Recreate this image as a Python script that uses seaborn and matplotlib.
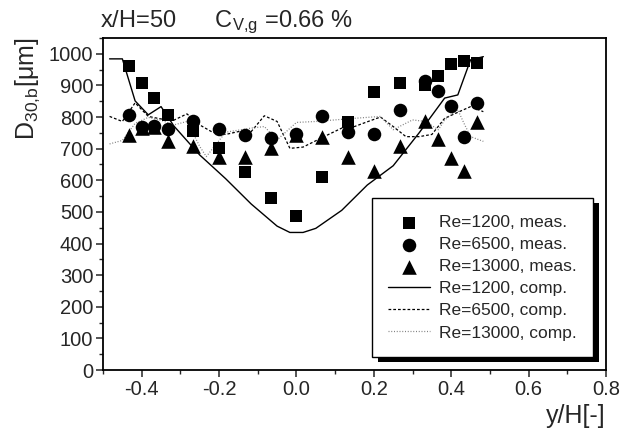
import matplotlib
matplotlib.use("Agg")
import matplotlib.pyplot as plt
import seaborn as sns
from matplotlib.patches import Rectangle
from matplotlib.ticker import MultipleLocator

# measured droplet diameters
x_meas = [-0.433, -0.4, -0.367, -0.333, -0.267, -0.2, -0.133, -0.067, 0.0,
          0.067, 0.133, 0.2, 0.267, 0.333, 0.367, 0.4, 0.433, 0.467]
d_1200_meas = [962, 908, 861, 807, 757, 701, 625, 545, 488,
               611, 783, 879, 909, 900, 930, 967, 976, 970]
d_6500_meas = [807, 768, 772, 762, 789, 762, 744, 733, 746,
               804, 752, 747, 823, 915, 883, 835, 736, 844]
d_13000_meas = [744, 765, 770, 723, 709, 675, 673, 701, 744,
                736, 675, 628, 709, 788, 730, 670, 628, 783]

# computed profiles
x_1200_comp = [-0.483, -0.45, -0.417, -0.383, -0.35, -0.317, -0.25, -0.183, -0.117,
               -0.05, -0.017, 0.017, 0.05, 0.117, 0.183, 0.25, 0.317, 0.383,
               0.417, 0.45, 0.483]
d_1200_comp = [984, 984, 851, 807, 833, 772, 680, 605, 525,
               455, 435, 435, 448, 505, 585, 646, 750, 860,
               870, 981, 991]

x_6500_comp = [-0.483, -0.45, -0.417, -0.383, -0.35, -0.317, -0.283, -0.25, -0.217,
               -0.183, -0.15, -0.117, -0.083, -0.05, -0.017, 0.017, 0.05, 0.083,
               0.117, 0.15, 0.183, 0.217, 0.25, 0.283, 0.317, 0.35, 0.383,
               0.417, 0.45, 0.483]
d_6500_comp = [802, 786, 845, 802, 794, 790, 810, 775, 752,
               745, 754, 754, 804, 786, 701, 705, 725, 745,
               765, 770, 785, 800, 770, 738, 738, 745, 796,
               815, 833, 817]

x_13000_comp = [-0.483, -0.45, -0.417, -0.383, -0.35, -0.317, -0.283, -0.25, -0.233,
                -0.183, -0.117, -0.083, -0.05, 0.0, 0.05, 0.1, 0.15, 0.217,
                0.25, 0.3, 0.333, 0.367, 0.383, 0.417, 0.433, 0.45, 0.483]
d_13000_comp = [715, 726, 780, 799, 790, 775, 786, 707, 675,
                752, 765, 770, 728, 783, 786, 791, 796, 802,
                760, 791, 786, 760, 791, 823, 780, 738, 723]

sns.set_style("ticks")
plt.rcParams["font.family"] = ["Liberation Sans", "DejaVu Sans"]
plt.rcParams["mathtext.fontset"] = "custom"
plt.rcParams["mathtext.rm"] = "Liberation Sans"
plt.rcParams["mathtext.it"] = "Liberation Sans"

fig = plt.figure(figsize=(6.22, 4.36), dpi=100)
ax = fig.add_axes([103 / 622, 1 - 370 / 436, 503 / 622, 332 / 436])

sns.scatterplot(x=x_meas, y=d_1200_meas, marker="s", s=80, color="black",
                edgecolor="black", linewidth=0, label="Re=1200, meas.", ax=ax, zorder=3)
sns.scatterplot(x=x_meas, y=d_6500_meas, marker="o", s=95, color="black",
                edgecolor="black", linewidth=0, label="Re=6500, meas.", ax=ax, zorder=3)
sns.scatterplot(x=x_meas, y=d_13000_meas, marker="^", s=110, color="black",
                edgecolor="black", linewidth=0, label="Re=13000, meas.", ax=ax, zorder=3)

sns.lineplot(x=x_1200_comp, y=d_1200_comp, color="black", lw=1.0,
             estimator=None, label="Re=1200, comp.", ax=ax)
sns.lineplot(x=x_6500_comp, y=d_6500_comp, color="black", lw=0.9,
             estimator=None, label="Re=6500, comp.", ax=ax)
sns.lineplot(x=x_13000_comp, y=d_13000_comp, color="0.5", lw=0.9,
             estimator=None, label="Re=13000, comp.", ax=ax)
ax.lines[1].set_dashes((2.2, 1.6))
ax.lines[2].set_dashes((0.8, 1.4))

ax.set_xlim(-0.5, 0.8)
ax.set_ylim(0, 1050)
ax.set_xticks([-0.4, -0.2, 0.0, 0.2, 0.4, 0.6, 0.8])
ax.set_xticklabels(["-0.4", "-0.2", "0.0", "0.2", "0.4", "0.6", "0.8"])
ax.set_yticks(range(0, 1001, 100))
ax.xaxis.set_minor_locator(MultipleLocator(0.1))
ax.yaxis.set_minor_locator(MultipleLocator(50))
ax.tick_params(which="major", direction="out", length=5, width=1.1,
               labelsize=14.5, pad=2, top=False, right=False)
ax.tick_params(which="minor", direction="out", length=3, width=1.0,
               top=False, right=False)
for sp in ax.spines.values():
    sp.set_visible(True)
    sp.set_linewidth(1.3)
    sp.set_color("black")

ax.set_xlabel("y/H[-]", fontsize=18, loc="right", labelpad=4)
ax.set_ylabel(r"D$_{\mathregular{30{,}b}}$[μm]", fontsize=18, loc="top", labelpad=5)

fig.text(100 / 622, 1 - 27 / 436, r"x/H=50      C$_{\mathregular{V{,}g}}$ =0.66 %",
         fontsize=17, va="baseline", ha="left")

handles, labels = ax.get_legend_handles_labels()
leg = ax.legend(handles, labels, loc="lower right", bbox_to_anchor=(0.974, 0.039),
                borderaxespad=0, fontsize=12.5, frameon=True, fancybox=False,
                edgecolor="black", framealpha=1, handlelength=2.4,
                handletextpad=0.5, labelspacing=0.4, borderpad=0.95)
leg.get_frame().set_linewidth(1.0)
leg.set_zorder(6)

fig.canvas.draw()
bb = leg.get_window_extent()
ax.add_patch(Rectangle((bb.x0 + 6, bb.y0 - 5), bb.width, bb.height, transform=None,
                       facecolor="black", edgecolor="none", clip_on=False, zorder=5))

fig.savefig("out.png", dpi=100)
